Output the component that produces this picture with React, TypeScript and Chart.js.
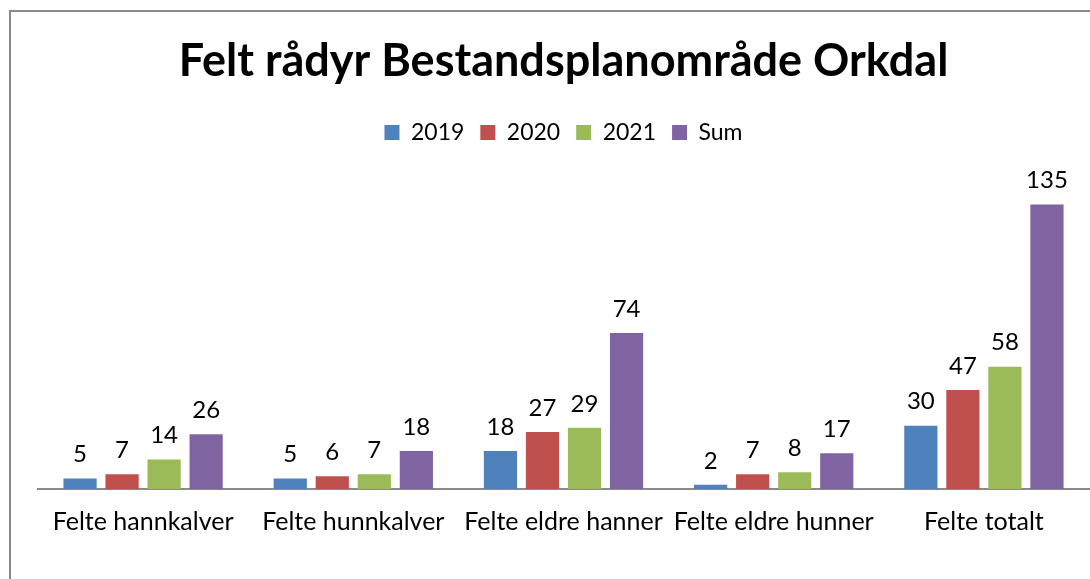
import React, { useEffect, useRef } from "react";
import { Chart, registerables } from "chart.js";

Chart.register(...registerables);

const categories = ["Felte hannkalver", "Felte hunnkalver", "Felte eldre hanner", "Felte eldre hunner", "Felte totalt"];
const series2019 = [5, 5, 18, 2, 30];
const series2020 = [7, 6, 27, 7, 47];
const series2021 = [14, 7, 29, 8, 58];
const seriesSum = [26, 18, 74, 17, 135];
const seriesNames = ["2019", "2020", "2021", "Sum"];
const colors = ["#4F81BD", "#C0504D", "#9BBB59", "#8064A2"];

const FONT = "Lato, 'Open Sans', sans-serif";

const labelPlugin = {
  id: "barValueLabels",
  afterDatasetsDraw(chart: any) {
    const ctx = chart.ctx;
    ctx.save();
    ctx.font = `24px ${FONT}`;
    ctx.fillStyle = "#000";
    ctx.textAlign = "center";
    ctx.textBaseline = "bottom";
    chart.data.datasets.forEach((ds: any, i: number) => {
      const meta = chart.getDatasetMeta(i);
      meta.data.forEach((bar: any, j: number) => {
        ctx.fillText(String(ds.data[j]), bar.x, bar.y - 12);
      });
    });
    ctx.restore();
  },
};

export default function App() {
  const ref = useRef<HTMLCanvasElement>(null);
  useEffect(() => {
    const data = [series2019, series2020, series2021, seriesSum];
    const chart = new Chart(ref.current!, {
      type: "bar",
      data: {
        labels: categories,
        datasets: data.map((d, i) => ({
          label: seriesNames[i],
          data: d,
          backgroundColor: colors[i],
          categoryPercentage: 0.8,
          barPercentage: 0.79,
        })),
      },
      options: {
        responsive: false,
        animation: false,
        layout: { padding: { left: 27, right: 1, top: 22, bottom: 32 } },
        plugins: {
          title: {
            display: true,
            text: "Felt rådyr Bestandsplanområde Orkdal",
            color: "#000",
            font: { family: FONT, size: 45, weight: "bold" },
            padding: { top: 0, bottom: 17 },
          },
          legend: {
            display: true,
            labels: {
              color: "#000",
              font: { family: FONT, size: 23 },
              boxWidth: 15,
              boxHeight: 15,
              padding: 16,
            },
          },
          tooltip: { enabled: false },
        },
        scales: {
          x: {
            grid: { display: false },
            border: { display: true, color: "#8a8a8a", width: 2 },
            ticks: { color: "#000", font: { family: FONT, size: 25 }, padding: 10, maxRotation: 0 },
          },
          y: {
            display: false,
            min: 0,
            max: 158.9,
          },
        },
      },
      plugins: [labelPlugin],
    });
    return () => chart.destroy();
  }, []);
  return (
    <div
      style={{
        position: "fixed",
        left: 9,
        top: 10,
        width: 1081,
        height: 569,
        borderLeft: "2px solid #898989",
        borderTop: "2px solid #898989",
        background: "#fff",
      }}
    >
      <canvas ref={ref} width={1079} height={567} style={{ display: "block" }} />
    </div>
  );
}
